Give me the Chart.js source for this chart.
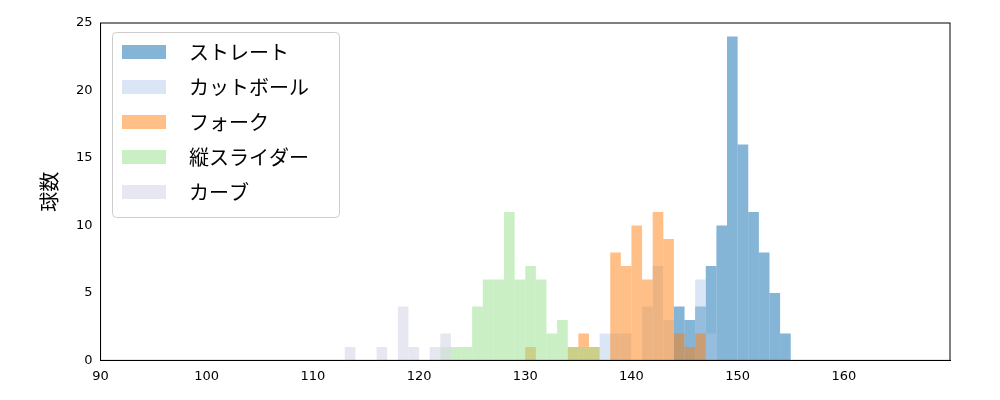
<!DOCTYPE html>
<html>
<head>
<meta charset="utf-8">
<script src="https://cdn.jsdelivr.net/npm/chart.js@4"></script>
<style>
  body { margin: 0; background: #fff; }
</style>
</head>
<body>
<canvas id="chart" width="1000" height="400"></canvas>
<script>
"use strict";

// bin left edges (km/h), width 1
let straightBins = [144, 145, 146, 147, 148, 149, 150, 151, 152, 153, 154];
let straightCounts = [4, 3, 4, 7, 10, 24, 16, 11, 8, 5, 2];

let cutterBins = [137, 138, 139, 141, 142, 143, 146, 147];
let cutterCounts = [2, 2, 2, 4, 7, 3, 6, 2];

let forkBins = [130, 134, 135, 136, 138, 139, 140, 141, 142, 143, 144, 145, 146];
let forkCounts = [1, 1, 2, 1, 8, 7, 10, 6, 11, 9, 2, 1, 2];

let sliderBins = [122, 123, 124, 125, 126, 127, 128, 129, 130, 131, 132, 133, 134, 135, 136];
let sliderCounts = [1, 1, 1, 4, 6, 6, 11, 6, 7, 6, 2, 3, 1, 1, 1];

let curveBins = [113, 116, 118, 119, 121, 122];
let curveCounts = [1, 1, 4, 1, 1, 2];

let seriesNames = ["ストレート", "カットボール", "フォーク", "縦スライダー", "カーブ"];
let seriesColors = [
  "rgba(31,119,180,0.55)",
  "rgba(174,199,232,0.45)",
  "rgba(255,127,14,0.5)",
  "rgba(152,223,138,0.5)",
  "rgba(218,218,235,0.65)"
];

let xTicks = [90, 100, 110, 120, 130, 140, 150, 160];
let yTicks = [0, 5, 10, 15, 20, 25];

function toPoints(bins, counts) {
  let pts = [];
  for (let i = 0; i < bins.length; i++) {
    pts.push({ x: bins[i] + 0.5, y: counts[i] });
  }
  return pts;
}

let allBins = [
  [straightBins, straightCounts],
  [cutterBins, cutterCounts],
  [forkBins, forkCounts],
  [sliderBins, sliderCounts],
  [curveBins, curveCounts]
];

let datasets = [];
for (let i = 0; i < allBins.length; i++) {
  datasets.push({
    label: seriesNames[i],
    data: toPoints(allBins[i][0], allBins[i][1]),
    backgroundColor: seriesColors[i],
    borderWidth: 0,
    inflateAmount: 0,
    grouped: false,
    barPercentage: 1,
    categoryPercentage: 1,
    order: allBins.length - i
  });
}

let font = "'Noto Sans CJK JP', 'DejaVu Sans', sans-serif";
let tickFont = "'DejaVu Sans', sans-serif";

let legendInside = {
  id: "legendInside",
  afterDraw(chart) {
    let ctx = chart.ctx;
    ctx.save();
    ctx.fillStyle = "rgba(255,255,255,0.8)";
    ctx.strokeStyle = "#cccccc";
    ctx.lineWidth = 1;
    ctx.beginPath();
    ctx.roundRect(112.5, 32.5, 227, 185, 4);
    ctx.fill();
    ctx.stroke();
    ctx.font = "20px " + font;
    ctx.textBaseline = "middle";
    for (let i = 0; i < seriesNames.length; i++) {
      let y = 52 + i * 35;
      ctx.fillStyle = seriesColors[i];
      ctx.fillRect(122, y - 7, 44, 14);
      ctx.fillStyle = "#000";
      ctx.fillText(seriesNames[i], 189, y);
    }
    ctx.restore();
  }
};

let frame = {
  id: "frame",
  afterDatasetsDraw(chart) {
    let a = chart.chartArea;
    let ctx = chart.ctx;
    ctx.save();
    ctx.strokeStyle = "#000";
    ctx.lineWidth = 1;
    ctx.strokeRect(a.left, a.top, a.right - a.left, a.bottom - a.top);
    ctx.restore();
  }
};

new Chart(document.getElementById("chart"), {
  type: "bar",
  data: { datasets: datasets },
  options: {
    responsive: false,
    animation: false,
    devicePixelRatio: 1,
    layout: { padding: { left: 37, right: 50, top: 23, bottom: 13 } },
    plugins: { legend: { display: false }, tooltip: { enabled: false } },
    scales: {
      x: {
        type: "linear",
        offset: false,
        min: 90,
        max: 170,
        afterBuildTicks(axis) { axis.ticks = xTicks.map(v => ({ value: v })); },
        grid: { display: false, drawTicks: true, tickLength: 5, tickColor: "#000" },
        border: { color: "#000" },
        ticks: { color: "#000", font: { size: 13, family: tickFont }, maxRotation: 0, padding: 3 }
      },
      y: {
        min: 0,
        max: 25,
        afterBuildTicks(axis) { axis.ticks = yTicks.map(v => ({ value: v })); },
        grid: { display: false, tickLength: 5, tickColor: "#000" },
        border: { color: "#000" },
        ticks: { color: "#000", font: { size: 13, family: tickFont }, padding: 3 },
        title: { display: true, text: "球数", color: "#000", font: { size: 20, family: font }, padding: { top: 0, bottom: 12 } }
      }
    }
  },
  plugins: [frame, legendInside]
});
</script>
</body>
</html>
